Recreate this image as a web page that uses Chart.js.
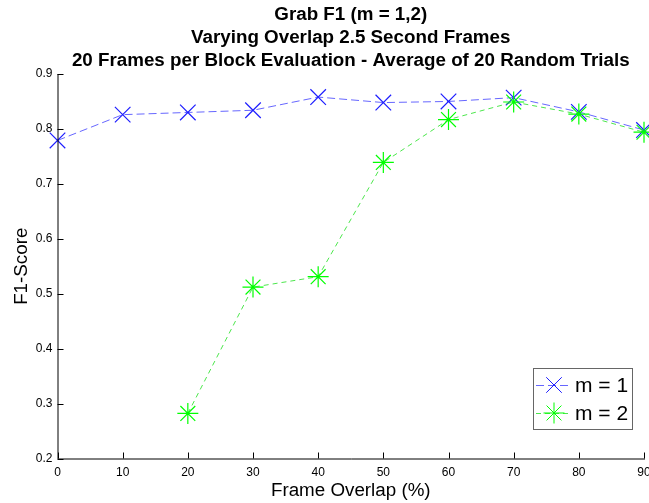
<!DOCTYPE html>
<html>
<head>
<meta charset="utf-8">
<script src="https://cdn.jsdelivr.net/npm/chart.js@4.4.1/dist/chart.umd.min.js"></script>
<style>
  body { margin: 0; background: #fff; }
  canvas { display: block; }
</style>
</head>
<body>
<canvas id="graph01" width="649" height="503"></canvas>
<script>
const titleLines = ['Grab F1 (m = 1,2)', 'Varying Overlap 2.5 Second Frames', '20 Frames per Block Evaluation - Average of 20 Random Trials'];
const xLabel = 'Frame Overlap (%)';
const yLabel = 'F1-Score';
const overlapM1 = [0, 10, 20, 30, 40, 50, 60, 70, 80, 90];
const scoreM1 = [0.779, 0.826, 0.830, 0.834, 0.858, 0.848, 0.850, 0.857, 0.831, 0.798];
const overlapM2 = [20, 30, 40, 50, 60, 70, 80, 90];
const scoreM2 = [0.282, 0.512, 0.531, 0.739, 0.817, 0.849, 0.827, 0.794];
const FONT = '"Liberation Sans", Arial, Helvetica, sans-serif';

const toPoints = (xs, ys) => xs.map((x, i) => ({ x: x, y: ys[i] }));

// titles, axis labels, inward ticks and the legend box, drawn the matlab way
const matlabLook = {
  id: 'matlabLook',
  afterDraw(chart) {
    const ctx = chart.ctx;
    const area = chart.chartArea;
    const xs = chart.scales.x;
    const ys = chart.scales.y;
    const midX = (area.left + area.right) / 2;
    const midY = (area.top + area.bottom) / 2;

    ctx.save();
    ctx.fillStyle = '#000';
    ctx.textAlign = 'center';
    ctx.textBaseline = 'middle';
    ctx.font = 'bold 18.8px ' + FONT;
    titleLines.forEach((t, i) => ctx.fillText(t, midX, 15 + i * 22.7));

    ctx.font = '18.8px ' + FONT;
    ctx.fillText(xLabel, midX, area.bottom + 32);
    ctx.save();
    ctx.translate(area.left - 36, midY);
    ctx.rotate(-Math.PI / 2);
    ctx.fillText(yLabel, 0, 0);
    ctx.restore();

    // x tick labels (drawn here so the last one may run off the edge)
    ctx.font = '12px ' + FONT;
    xs.ticks.forEach(t => {
      ctx.fillText(t.label, xs.getPixelForValue(t.value), area.bottom + 14);
    });

    // axes with inward ticks
    ctx.strokeStyle = '#000';
    ctx.lineWidth = 1;
    ctx.beginPath();
    ctx.moveTo(area.left + 0.5, area.top);
    ctx.lineTo(area.left + 0.5, area.bottom + 0.5);
    ctx.lineTo(area.right + 1, area.bottom + 0.5);
    xs.ticks.forEach(t => {
      const px = Math.round(xs.getPixelForValue(t.value)) + 0.5;
      ctx.moveTo(px, area.bottom);
      ctx.lineTo(px, area.bottom - 6);
    });
    ys.ticks.forEach(t => {
      const py = Math.round(ys.getPixelForValue(t.value)) + 0.5;
      ctx.moveTo(area.left, py);
      ctx.lineTo(area.left + 6, py);
    });
    ctx.stroke();

    // legend
    const bx = 533, by = 368, bw = 99, bh = 61;
    ctx.fillStyle = '#fff';
    ctx.fillRect(bx, by, bw, bh);
    ctx.strokeStyle = '#666';
    ctx.strokeRect(bx + 0.5, by + 0.5, bw, bh);
    chart.data.datasets.forEach((ds, i) => {
      const rowY = by + 17 + i * 28;
      ctx.save();
      ctx.strokeStyle = ds.borderColor;
      ctx.setLineDash(ds.borderDash);
      ctx.beginPath();
      ctx.moveTo(bx + 3, rowY + 0.5);
      ctx.lineTo(bx + 39, rowY + 0.5);
      ctx.stroke();
      ctx.restore();
      ctx.strokeStyle = ds.pointBorderColor;
      ctx.fillStyle = ds.pointBorderColor;
      Chart.helpers.drawPoint(ctx, {
        pointStyle: ds.pointStyle,
        radius: ds.pointRadius,
        rotation: 0,
        borderWidth: ds.pointBorderWidth
      }, bx + 21, rowY);
      ctx.fillStyle = '#000';
      ctx.textAlign = 'left';
      ctx.font = '21px ' + FONT;
      ctx.fillText(ds.label, bx + 42, rowY + 1);
    });
    ctx.restore();
  }
};

new Chart(document.getElementById('graph01'), {
  type: 'line',
  data: {
    datasets: [
      {
        label: 'm = 1',
        data: toPoints(overlapM1, scoreM1),
        borderColor: 'rgba(0, 0, 255, 0.6)',
        borderWidth: 1,
        borderDash: [8, 4],
        pointStyle: 'crossRot',
        pointRadius: 11,
        pointBorderColor: 'rgb(30, 30, 255)',
        pointBackgroundColor: 'rgb(30, 30, 255)',
        pointBorderWidth: 1.2,
        order: 1
      },
      {
        label: 'm = 2',
        data: toPoints(overlapM2, scoreM2),
        borderColor: 'rgba(0, 220, 0, 0.7)',
        borderWidth: 1,
        borderDash: [5, 4],
        pointStyle: 'star',
        pointRadius: 10.5,
        pointBorderColor: 'rgb(0, 255, 0)',
        pointBackgroundColor: 'rgb(0, 255, 0)',
        pointBorderWidth: 1.2,
        order: 0
      }
    ]
  },
  options: {
    responsive: false,
    animation: false,
    devicePixelRatio: 1,
    clip: false,
    layout: { autoPadding: false, padding: { top: 74, right: 5, left: 0, bottom: 0 } },
    plugins: {
      legend: { display: false },
      title: { display: false },
      tooltip: { enabled: false }
    },
    scales: {
      x: {
        type: 'linear',
        min: 0,
        max: 90,
        ticks: { stepSize: 10, display: false },
        grid: { display: false, drawTicks: false },
        border: { display: false },
        afterFit(scale) { scale.height = 44.5; }
      },
      y: {
        min: 0.2,
        max: 0.9,
        ticks: { stepSize: 0.1, color: '#000', font: { family: FONT, size: 12 }, padding: 5, callback: v => v.toFixed(1) },
        grid: { display: false, drawTicks: false },
        border: { display: false },
        afterFit(scale) { scale.width = 57.5; }
      }
    }
  },
  plugins: [matlabLook]
});
</script>
</body>
</html>
